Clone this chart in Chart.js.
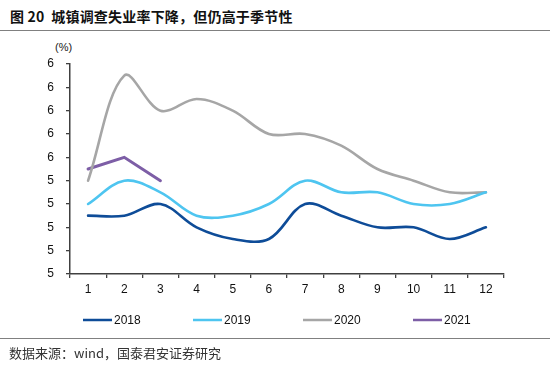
<!DOCTYPE html>
<html>
<head>
<meta charset="utf-8">
<script src="https://cdn.jsdelivr.net/npm/chart.js@4.4.1/dist/chart.umd.min.js"></script>
<style>
  html, body { margin: 0; padding: 0; background: #fff; }
  #wrap { position: relative; width: 550px; height: 372px; overflow: hidden; }
  #chart { position: absolute; left: 0; top: 0; }
  .title { position: absolute; left: 10px; top: 6px; font: bold 14px "Noto Sans CJK SC"; color: #111; white-space: nowrap; letter-spacing: 0.2px; }
  .rule { position: absolute; left: 0; width: 550px; height: 0; border-top: 1.5px solid #808080; }
  .unit { position: absolute; left: 55px; top: 41px; font: 11px "Liberation Sans"; color: #222; }
  .source { position: absolute; left: 9px; top: 343px; font: 13px "Noto Sans CJK SC"; color: #333; white-space: nowrap; }
</style>
</head>
<body>
<div id="wrap">
  <div class="title">图 20&nbsp; 城镇调查失业率下降，但仍高于季节性</div>
  <div class="rule" style="top:30px"></div>
  <div class="unit">(%)</div>
  <canvas id="chart" width="550" height="372"></canvas>
  <div class="rule" style="top:338px"></div>
  <div class="source">数据来源：wind，国泰君安证券研究</div>
</div>
<script>
const months = ['1', '2', '3', '4', '5', '6', '7', '8', '9', '10', '11', '12']
const rate2018 = [5.0, 5.0, 5.1, 4.9, 4.8, 4.8, 5.1, 5.0, 4.9, 4.9, 4.8, 4.9]
const rate2019 = [5.1, 5.3, 5.2, 5.0, 5.0, 5.1, 5.3, 5.2, 5.2, 5.1, 5.1, 5.2]
const rate2020 = [5.3, 6.2, 5.9, 6.0, 5.9, 5.7, 5.7, 5.6, 5.4, 5.3, 5.2, 5.2]
const rate2021 = [5.4, 5.5, 5.3]
// labels as printed on the source chart (rounded to whole numbers)
const yTickLabels = ['5', '5', '5', '5', '5', '6', '6', '6', '6', '6']

const AXIS_COLOR = '#404040'

// legend drawn by hand so the spacing matches the original
const legendPlugin = {
    id: 'manualLegend',
    afterDraw(chart) {
        const ctx = chart.ctx
        const startX = 83
        const gap = 110
        const y = 320
        ctx.save()
        ctx.font = '12px "Liberation Sans"'
        ctx.textBaseline = 'middle'
        ctx.textAlign = 'left'
        chart.data.datasets.forEach((ds, i) => {
            const x = startX + i * gap
            ctx.strokeStyle = ds.borderColor
            ctx.lineWidth = 2.5
            ctx.beginPath()
            ctx.moveTo(x, y)
            ctx.lineTo(x + 29, y)
            ctx.stroke()
            ctx.fillStyle = '#111'
            ctx.fillText(ds.label, x + 31, y + 1)
        })
        ctx.restore()
    }
}

const data = {
    labels: months,
    datasets: [
        { label: '2018', data: rate2018, borderColor: 'rgb(14, 76, 152)', tension: 0.35 },
        { label: '2019', data: rate2019, borderColor: 'rgb(78, 197, 240)', tension: 0.35 },
        { label: '2020', data: rate2020, borderColor: 'rgb(166, 166, 166)', tension: 0.35 },
        { label: '2021', data: rate2021, borderColor: 'rgb(125, 94, 166)', tension: 0, borderWidth: 3 }
    ]
}

const config = {
    type: 'line',
    data: data,
    options: {
        responsive: false,
        animation: false,
        layout: { padding: { top: 64, right: 46, bottom: 68, left: 0 } },
        elements: {
            point: { radius: 0, hoverRadius: 0 },
            line: { borderWidth: 2.6, borderCapStyle: 'round', fill: false }
        },
        plugins: {
            legend: { display: false },
            tooltip: { enabled: false }
        },
        scales: {
            x: {
                type: 'category',
                offset: true,
                afterFit: scale => { scale.height = 30 },
                grid: { offset: true, drawOnChartArea: false, tickLength: 4, color: AXIS_COLOR, lineWidth: 1.3 },
                border: { color: AXIS_COLOR, width: 1.5 },
                ticks: { color: '#111', font: { family: 'Liberation Sans', size: 12 }, padding: 4, maxRotation: 0, autoSkip: false }
            },
            y: {
                min: 4.5,
                max: 6.3,
                afterFit: scale => { scale.width = 70 },
                grid: { drawOnChartArea: false, tickLength: 4, color: AXIS_COLOR, lineWidth: 1.3 },
                border: { color: AXIS_COLOR, width: 1.5 },
                ticks: {
                    stepSize: 0.2,
                    color: '#111',
                    font: { family: 'Liberation Sans', size: 12 },
                    padding: 12,
                    callback: (value, index) => yTickLabels[index]
                }
            }
        }
    },
    plugins: [legendPlugin]
}

new Chart(document.getElementById('chart'), config)
</script>
</body>
</html>
